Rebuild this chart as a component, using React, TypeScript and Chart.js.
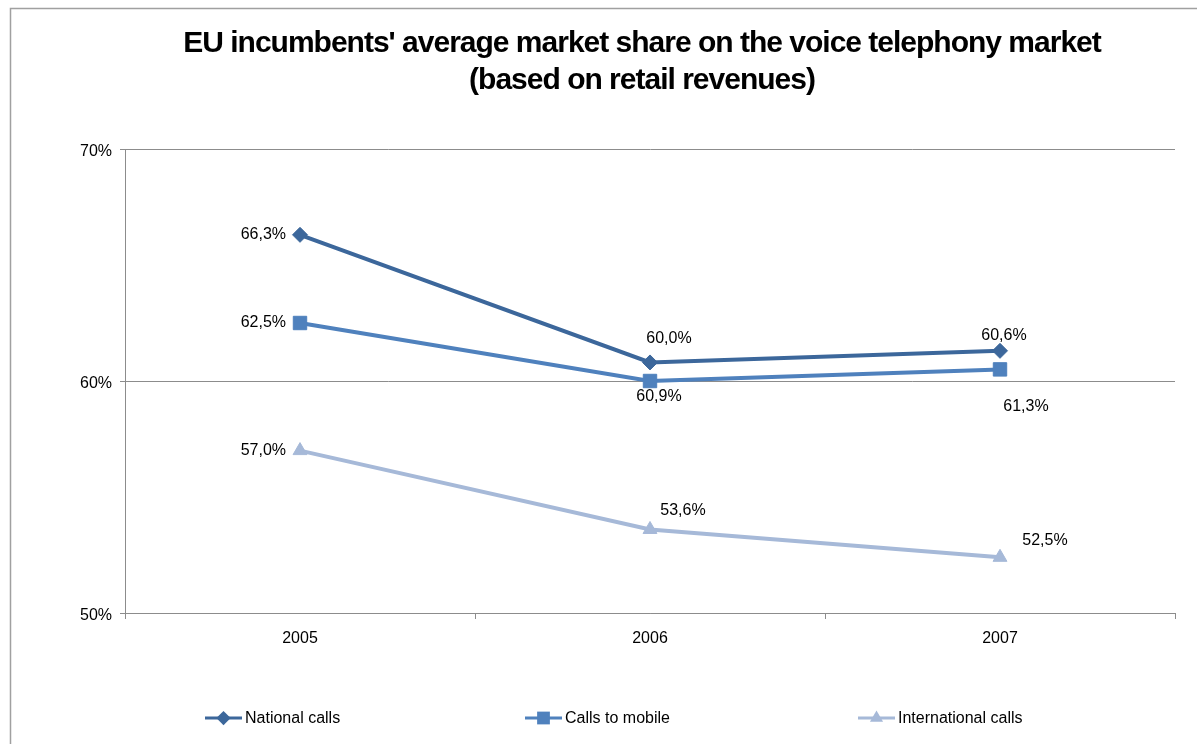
import React, { useEffect, useRef } from "react";
import { Chart, registerables } from "chart.js";

Chart.register(...registerables);

const years = ["2005", "2006", "2007"];
const seriesNames = ["National calls", "Calls to mobile", "International calls"];
const nationalCalls = [66.3, 60.8, 61.3];
const callsToMobile = [62.5, 60.0, 60.5];
const internationalCalls = [57.0, 53.6, 52.4];
const nationalLabels = ["66,3%", "60,0%", "60,6%"];
const mobileLabels = ["62,5%", "60,9%", "61,3%"];
const internationalLabels = ["57,0%", "53,6%", "52,5%"];
const yTicks = [50, 60, 70];
const titleLines = [
  "EU incumbents' average market share on the voice telephony market",
  "(based on retail revenues)",
];

const FONT = "'Liberation Sans', Arial, sans-serif";
const colors = ["#3C679B", "#4F81BD", "#A6B9D8"];
const pointStyles = ["rectRot", "rect", "triangle"];
const pointRadii = [7.5, 9.5, 8];

// label placement style: [dx, dy, align]
const labelPlacement: [number, number, CanvasTextAlign][][] = [
  [[-14, 0, "right"], [19, -24, "center"], [4, -15, "center"]],
  [[-14, 0, "right"], [9, 16, "center"], [26, 37, "center"]],
  [[-14, 0, "right"], [33, -19, "center"], [45, -17, "center"]],
];
const allLabels = [nationalLabels, mobileLabels, internationalLabels];
const legendStarts = [205, 525, 858];

function drawMarker(ctx: CanvasRenderingContext2D, style: string, x: number, y: number, r: number, color: string) {
  ctx.save();
  ctx.fillStyle = color;
  ctx.beginPath();
  if (style === "rectRot") {
    ctx.moveTo(x - r, y);
    ctx.lineTo(x, y - r);
    ctx.lineTo(x + r, y);
    ctx.lineTo(x, y + r);
  } else if (style === "rect") {
    const s = r * Math.SQRT1_2;
    ctx.rect(x - s, y - s, 2 * s, 2 * s);
  } else {
    ctx.moveTo(x, y - r);
    ctx.lineTo(x + r * Math.sin((2 * Math.PI) / 3), y - r * Math.cos((2 * Math.PI) / 3));
    ctx.lineTo(x - r * Math.sin((2 * Math.PI) / 3), y - r * Math.cos((2 * Math.PI) / 3));
  }
  ctx.closePath();
  ctx.fill();
  ctx.restore();
}

const decorPlugin = {
  id: "decor",
  beforeDraw(chart: any) {
    const ctx = chart.ctx as CanvasRenderingContext2D;
    ctx.save();
    ctx.fillStyle = "#ffffff";
    ctx.fillRect(0, 0, chart.width, chart.height);
    ctx.strokeStyle = "#a0a0a0";
    ctx.lineWidth = 1.5;
    ctx.beginPath();
    ctx.moveTo(10.5, chart.height + 2);
    ctx.lineTo(10.5, 8.5);
    ctx.lineTo(chart.width + 2, 8.5);
    ctx.stroke();
    // title
    ctx.fillStyle = "#000000";
    ctx.font = `bold 30px ${FONT}`;
    ctx.textAlign = "center";
    ctx.textBaseline = "alphabetic";
    (ctx as any).letterSpacing = "-1px";
    ctx.fillText(titleLines[0], 642, 52);
    ctx.fillText(titleLines[1], 642, 89);
    (ctx as any).letterSpacing = "0px";
    ctx.restore();
  },
  afterDraw(chart: any) {
    const ctx = chart.ctx as CanvasRenderingContext2D;
    ctx.save();
    // data labels
    ctx.font = `16px ${FONT}`;
    ctx.fillStyle = "#000000";
    ctx.textBaseline = "middle";
    chart.data.datasets.forEach((_: any, di: number) => {
      const meta = chart.getDatasetMeta(di);
      meta.data.forEach((pt: any, i: number) => {
        const [dx, dy, align] = labelPlacement[di][i];
        ctx.textAlign = align;
        ctx.fillText(allLabels[di][i], pt.x + dx, pt.y + dy);
      });
    });
    // legend
    const ly = 718;
    seriesNames.forEach((name, i) => {
      const x0 = legendStarts[i];
      ctx.strokeStyle = colors[i];
      ctx.lineWidth = 3;
      ctx.beginPath();
      ctx.moveTo(x0, ly);
      ctx.lineTo(x0 + 37, ly);
      ctx.stroke();
      drawMarker(ctx, pointStyles[i], x0 + 18.5, ly, pointRadii[i] * 0.95, colors[i]);
      ctx.fillStyle = "#000000";
      ctx.textAlign = "left";
      ctx.fillText(name, x0 + 40, ly + 1);
    });
    ctx.restore();
  },
};

export default function App() {
  const ref = useRef<HTMLCanvasElement | null>(null);
  useEffect(() => {
    document.body.style.margin = "0";
    const canvas = ref.current!;
    const seriesData = [nationalCalls, callsToMobile, internationalCalls];
    const chart = new Chart(canvas, {
      type: "line",
      data: {
        labels: years,
        datasets: seriesData.map((d, i) => ({
          label: seriesNames[i],
          data: d,
          borderColor: colors[i],
          backgroundColor: colors[i],
          borderWidth: 4,
          pointStyle: pointStyles[i] as any,
          pointRadius: pointRadii[i],
          pointBorderWidth: 1,
          pointBorderColor: colors[i],
          pointBackgroundColor: colors[i],
          tension: 0,
          fill: false,
        })),
      },
      options: {
        responsive: false,
        animation: false,
        devicePixelRatio: 1,
        layout: { padding: { left: 55, right: 22, top: 149, bottom: 91 } },
        plugins: {
          legend: { display: false },
          title: { display: false },
          tooltip: { enabled: false },
        },
        scales: {
          x: {
            type: "category",
            offset: true,
            grid: {
              offset: true,
              drawOnChartArea: false,
              drawTicks: true,
              tickLength: 6,
              color: "#8c8c8c",
            },
            border: { color: "#8c8c8c", width: 1 },
            ticks: {
              color: "#000000",
              font: { family: FONT, size: 16 },
              padding: 10,
              maxRotation: 0,
            },
            afterFit: (s: any) => {
              s.height = 40;
            },
          },
          y: {
            min: yTicks[0],
            max: yTicks[yTicks.length - 1],
            afterBuildTicks: (s: any) => {
              s.ticks = yTicks.map((v) => ({ value: v }));
            },
            grid: {
              color: "#8c8c8c",
              drawTicks: true,
              tickLength: 5,
            },
            border: { color: "#8c8c8c", width: 1 },
            ticks: {
              color: "#000000",
              font: { family: FONT, size: 16 },
              padding: 8,
              labelOffset: 3,
              callback: (v: any) => `${v}%`,
            },
            afterFit: (s: any) => {
              s.width = 70;
            },
          },
        },
      },
      plugins: [decorPlugin],
    });
    return () => chart.destroy();
  }, []);
  return (
    <div style={{ width: 1197, height: 744 }}>
      <canvas ref={ref} width={1197} height={744} style={{ display: "block", width: 1197, height: 744 }} />
    </div>
  );
}
